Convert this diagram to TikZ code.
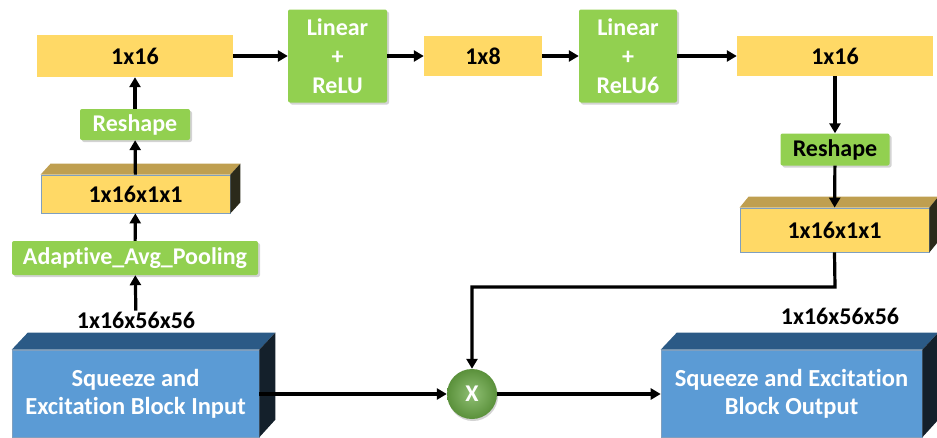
\documentclass[tikz,border=0pt]{standalone}
\usepackage{fontspec}
\setmainfont[Ligatures=NoCommon]{Carlito}
\usetikzlibrary{arrows.meta,shadows,calc}
\definecolor{ylw}{HTML}{FFD966}
\definecolor{ylwtop}{HTML}{BF9F50}
\definecolor{ylwside}{HTML}{2B2A1A}
\definecolor{grn}{HTML}{92D050}
\definecolor{blu}{HTML}{5B9BD5}
\definecolor{blutop}{HTML}{2B5A86}
\definecolor{bluside}{HTML}{14202B}
\definecolor{edgeblue}{HTML}{7F9FBF}
\definecolor{ballgrn}{HTML}{6AAA45}
\begin{document}
\begin{tikzpicture}[x=1pt,y=-1pt,
  font=\bfseries\fontsize{24}{29}\selectfont,
  flatbox/.style={fill=ylw, inner sep=0pt, text=black},
  cubeface/.style={fill=ylw, draw=edgeblue, line width=0.8pt, inner sep=0pt, text=black},
  gbox/.style={fill=grn, rounded corners=2pt, inner sep=0pt, text=white, align=center,
     drop shadow={opacity=0.35, shadow xshift=2pt, shadow yshift=-2pt}},
  bface/.style={fill=blu, draw=edgeblue, line width=0.6pt, inner sep=0pt, text=white, align=center,
     font=\bfseries\fontsize{24.5}{28}\selectfont},
  arr/.style={line width=3.2pt, -{Triangle[length=10pt,width=11pt]}},
  lbl/.style={inner sep=1pt, text=black, font=\bfseries\fontsize{24}{26}\selectfont}
]
\useasboundingbox (0,0) rectangle (937,437);

% top row
\node[flatbox, minimum width=196pt, minimum height=42pt] (L16) at (135,56) {1x16};
\node[gbox, minimum width=99pt, minimum height=93pt] (lin1) at (337.5,56) {Linear\\+\\ReLU};
\node[flatbox, minimum width=118pt, minimum height=40pt] (s8) at (483,56) {1x8};
\node[gbox, minimum width=98pt, minimum height=93pt] (lin2) at (628,56) {Linear\\+\\ReLU6};
\node[flatbox, minimum width=196pt, minimum height=40pt] (R16) at (835,56) {1x16};

% left column
\node[gbox, minimum width=110pt, minimum height=31pt] (resL) at (135,124.5) {Reshape};
\node[cubeface, minimum width=189pt, minimum height=38pt] (boxL) at (135.5,194) {1x16x1x1};
\fill[ylwtop] (boxL.north west) -- ++(10,-11) -- ($(boxL.north east)+(10,-11)$) -- (boxL.north east) -- cycle;
\fill[ylwside] (boxL.north east) -- ++(10,-11) -- ($(boxL.south east)+(10,-11)$) -- (boxL.south east) -- cycle;
\node[gbox, minimum width=246pt, minimum height=34pt] (pool) at (135,258) {Adaptive\_Avg\_Pooling};
\node[lbl] (dimL) at (136,320) {1x16x56x56};

% right column
\node[gbox, minimum width=109pt, minimum height=32pt, text=black] (resR) at (835,149.5) {Reshape};
\node[cubeface, minimum width=189pt, minimum height=44pt] (boxR) at (834.5,230) {1x16x1x1};
\fill[ylwtop] (boxR.north west) -- ++(9,-11) -- ($(boxR.north east)+(9,-11)$) -- (boxR.north east) -- cycle;
\fill[ylwside] (boxR.north east) -- ++(9,-11) -- ($(boxR.south east)+(9,-11)$) -- (boxR.south east) -- cycle;
\node[lbl] (dimR) at (840,316) {1x16x56x56};

% bottom blocks
\node[bface, minimum width=247pt, minimum height=87pt] (inp) at (135.5,393.5) {Squeeze and\\Excitation Block Input};
\fill[blutop] (inp.north west) -- ++(16,-17) -- ($(inp.north east)+(16,-17)$) -- (inp.north east) -- cycle;
\fill[bluside] (inp.north east) -- ++(16,-17) -- ($(inp.north east)+(16,70)$) -- (inp.south east) -- cycle;
\node[bface, minimum width=261pt, minimum height=87pt] (out) at (791.5,393.5) {Squeeze and Excitation\\Block Output};
\fill[blutop] (out.north west) -- ++(16,-17) -- ($(out.north east)+(16,-17)$) -- (out.north east) -- cycle;
\fill[bluside] (out.north east) -- ++(16,-17) -- ($(out.north east)+(16,70)$) -- (out.south east) -- cycle;

\node[circle, minimum size=50pt, inner sep=0pt, text=white,
      inner color=ballgrn!75!white, outer color=ballgrn!85!black,
      drop shadow={opacity=0.35, shadow xshift=1pt, shadow yshift=-2pt}] (mul) at (472,394) {X};

% connectors
\draw[arr] (L16) -- (lin1);
\draw[arr] (lin1) -- (s8);
\draw[arr] (s8) -- (lin2);
\draw[arr] (lin2) -- (R16);
\draw[arr] (dimL) -- (pool);
\draw[arr] (pool) -- (boxL);
\draw[arr] (boxL) -- (resL);
\draw[arr] (resL) -- (L16);
\draw[arr] (R16) -- (resR);
\draw[arr] (resR) -- (boxR);
\coordinate (turn) at (835,287);
\draw[arr] (boxR.south) -- (turn) -| (mul);
\draw[arr] (inp.east |- mul.west) -- (mul);
\draw[arr] (mul) -- (out.west |- mul.east);
\end{tikzpicture}
\end{document}
